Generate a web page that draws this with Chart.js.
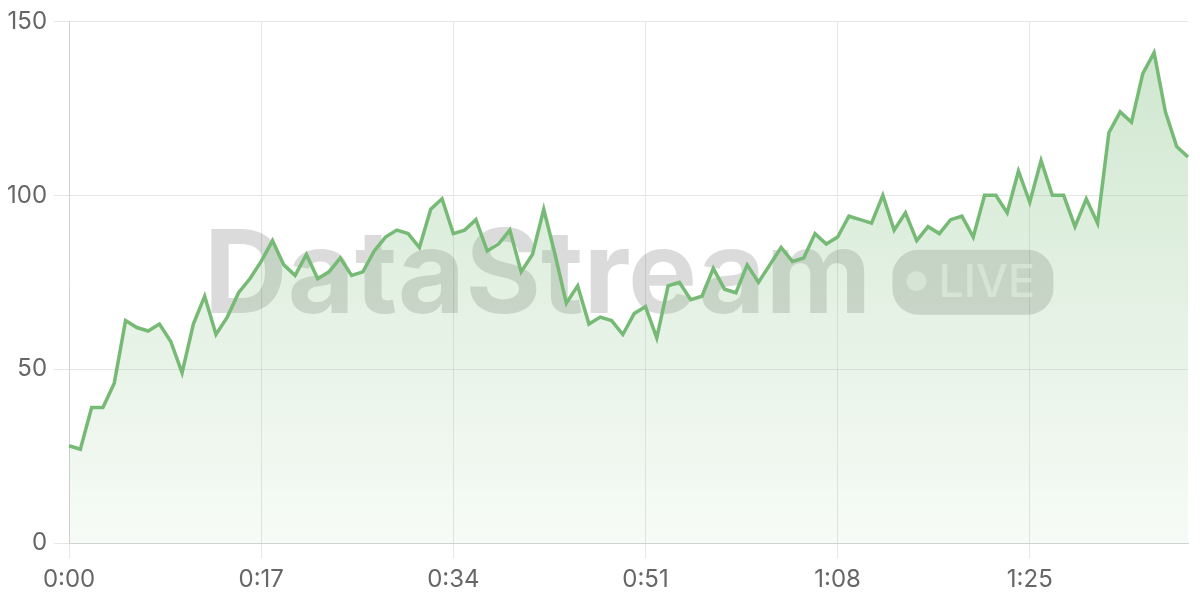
<!DOCTYPE html>
<html>
<head>
<meta charset="utf-8">
<script src="https://cdn.jsdelivr.net/npm/chart.js@4.4.1/dist/chart.umd.min.js"></script>
<style>
    html, body { margin: 0; padding: 0; background: #ffffff; }
    #wrap { width: 1200px; height: 600px; }
</style>
</head>
<body>
<div id="wrap"><canvas id="chart"></canvas></div>
<script>
// one reading per second, 0:00 .. 1:39
const values = [
    28, 27, 39, 39, 46, 64, 62, 61, 63, 58, 49, 63, 71, 60, 65, 72, 76, 81, 87,
    80, 77, 83, 76, 78, 82, 77, 78, 84, 88, 90, 89, 85, 96, 99, 89, 90,
    93, 84, 86, 90, 78, 83, 96, 83, 69, 74, 63, 65, 64, 60, 66, 68, 59,
    74, 75, 70, 71, 79, 73, 72, 80, 75, 80, 85, 81, 82, 89, 86, 88, 94,
    93, 92, 100, 90, 95, 87, 91, 89, 93, 94, 88, 100, 100, 95, 107, 98, 110,
    100, 100, 91, 99, 92, 118, 124, 121, 135, 141, 124, 114, 111
];
const TICK_EVERY = 17;
const Y_MAX = 150;
const Y_STEP = 50;
const WATERMARK = "DataStream";
const BADGE = "LIVE";

const LINE_COLOR = "rgb(118, 186, 117)";
const GRID_COLOR = "#e6e6e6";
const BORDER_COLOR = "#d2d2d2";
const TEXT_COLOR = "#666666";
const FONT = "Inter, 'Noto Sans', sans-serif";

function fmtTime(sec) {
    const m = Math.floor(sec / 60);
    const s = sec % 60;
    return m + ":" + (s < 10 ? "0" : "") + s;
}
const labels = values.map((v, i) => fmtTime(i));

// watermark sits behind the line, centred in the plot area
const watermark = {
    id: "watermark",
    beforeDatasetsDraw(chart) {
        const { ctx, chartArea } = chart;
        const cx = (chartArea.left + chartArea.right) / 2;
        const cy = (chartArea.top + chartArea.bottom) / 2;
        ctx.save();
        ctx.font = "bold 116px " + FONT;
        const textW = ctx.measureText(WATERMARK).width;
        const gap = 21;
        const pillW = 161;
        const pillH = 65;
        const total = textW + gap + pillW;
        const x0 = cx - total / 2;

        ctx.fillStyle = "rgba(0, 0, 0, 0.14)";
        ctx.textBaseline = "alphabetic";
        ctx.textAlign = "left";
        ctx.fillText(WATERMARK, x0, cy + 31);

        const px = x0 + textW + gap;
        const py = cy - pillH / 2;
        ctx.beginPath();
        ctx.roundRect(px, py, pillW, pillH, 26);
        ctx.fill();

        ctx.fillStyle = "rgba(255, 255, 255, 0.55)";
        ctx.beginPath();
        ctx.arc(px + 24, cy - 1, 10, 0, Math.PI * 2);
        ctx.fill();
        ctx.font = "500 45px " + FONT;
        ctx.textBaseline = "middle";
        ctx.fillText(BADGE, px + 46, cy + 1);
        ctx.restore();
    },
};

const ctx = document.getElementById("chart");
new Chart(ctx, {
    type: "line",
    data: {
        labels: labels,
        datasets: [
            {
                data: values,
                borderColor: LINE_COLOR,
                borderWidth: 3.5,
                pointRadius: 0,
                tension: 0,
                fill: "origin",
                backgroundColor: function (context) {
                    const area = context.chart.chartArea;
                    if (!area) return "rgba(118, 186, 117, 0.2)";
                    const g = context.chart.ctx.createLinearGradient(0, area.top, 0, area.bottom);
                    g.addColorStop(0, "rgba(118, 186, 117, 0.36)");
                    g.addColorStop(1, "rgba(118, 186, 117, 0.06)");
                    return g;
                },
            },
        ],
    },
    options: {
        responsive: true,
        maintainAspectRatio: false,
        animation: false,
        layout: { padding: { top: -2, right: 12, bottom: -1, left: 0 } },
        plugins: {
            legend: { display: false },
            tooltip: { enabled: false },
        },
        scales: {
            x: {
                afterBuildTicks: (axis) => {
                    axis.ticks = axis.ticks.filter((t) => t.value % TICK_EVERY === 0);
                },
                grid: { color: GRID_COLOR, tickLength: 15 },
                border: { color: BORDER_COLOR },
                ticks: {
                    autoSkip: false,
                    maxRotation: 0,
                    color: TEXT_COLOR,
                    padding: 7,
                    font: { family: FONT, size: 24 },
                },
            },
            y: {
                min: 0,
                max: Y_MAX,
                grid: { color: GRID_COLOR, tickLength: 15 },
                border: { color: BORDER_COLOR },
                ticks: {
                    stepSize: Y_STEP,
                    color: TEXT_COLOR,
                    padding: 7,
                    font: { family: FONT, size: 24 },
                },
            },
        },
    },
    plugins: [watermark],
});
</script>
</body>
</html>
